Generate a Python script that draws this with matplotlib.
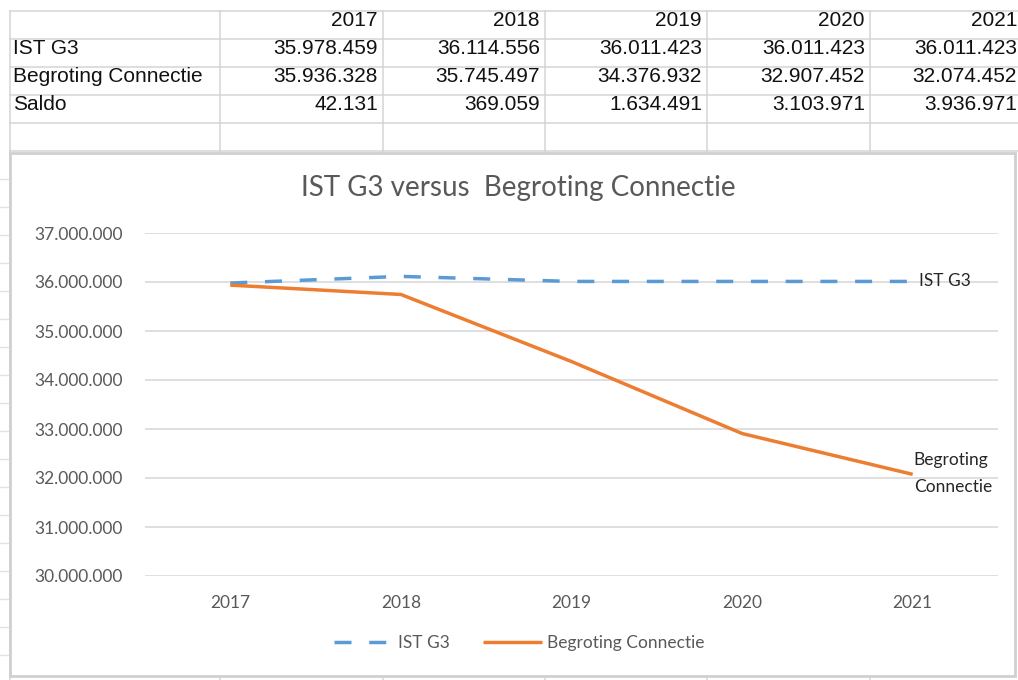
import matplotlib
matplotlib.use("Agg")
import matplotlib.pyplot as plt
from matplotlib.patches import Rectangle

# ---------------- data ----------------
years = ["2017", "2018", "2019", "2020", "2021"]
ist_g3 = [35978459, 36114556, 36011423, 36011423, 36011423]
begroting = [35936328, 35745497, 34376932, 32907452, 32074452]
saldo = [42131, 369059, 1634491, 3103971, 3936971]
row_labels = ["IST G3", "Begroting Connectie", "Saldo"]
y_ticks = [30000000, 31000000, 32000000, 33000000, 34000000, 35000000, 36000000, 37000000]
title = "IST G3 versus  Begroting Connectie"

W, H = 1018, 680
fig = plt.figure(figsize=(W / 100, H / 100), dpi=100)
fig.patch.set_facecolor("white")

def dotfmt(v):
    return f"{v:,}".replace(",", ".")

# ---------------- background sheet (pixel coords) ----------------
bg = fig.add_axes([0, 0, 1, 1])
bg.set_xlim(0, W)
bg.set_ylim(H, 0)
bg.axis("off")

grid_c = "#d4d4d4"
col_edges = [10, 220, 383, 545, 707, 870, 1022]
row_edges = [11, 39, 67, 95, 123, 151]
for y in row_edges:
    bg.plot([col_edges[0], W], [y, y], color=grid_c, lw=1.1, zorder=1)
for x in col_edges:
    bg.plot([x, x], [row_edges[0], H], color=grid_c, lw=1.1, zorder=1)
# row stubs left of the chart
for y in range(179, H, 28):
    bg.plot([0, 10], [y, y], color="#e2e2e2", lw=1.0, zorder=1)

tfont = dict(family="Liberation Sans", size=15, color="#111111", va="center")
row_y = [21, 49, 77, 105]
# header
for i, yr in enumerate(years):
    bg.text(col_edges[i + 2] - 5, row_y[0], yr, ha="right", **tfont)
series_rows = [ist_g3, begroting, saldo]
for r, (lab, vals) in enumerate(zip(row_labels, series_rows)):
    bg.text(13, row_y[r + 1], lab, ha="left", **tfont)
    for i, v in enumerate(vals):
        bg.text(col_edges[i + 2] - 5, row_y[r + 1], dotfmt(v), ha="right", **tfont)

# chart area box
bg.add_patch(Rectangle((10, 153), 1005, 523, facecolor="white",
                       edgecolor="#d0d0d0", lw=2.0, zorder=3))

# ---------------- chart ----------------
cfont = "Lato"
gray = "#595959"
blue = "#5B9BD5"
orange = "#ED7D31"

L, R, T, B = 145, 998, 233, 576
ax = fig.add_axes([L / W, 1 - B / H, (R - L) / W, (B - T) / H])
ax.set_facecolor("none")
ax.set_zorder(5)
xs = list(range(len(years)))

ax.plot(xs, ist_g3, color=blue, lw=2.5, dashes=(4.9, 5.1), dash_capstyle="butt",
        label="IST G3", zorder=3)
ax.plot(xs, begroting, color=orange, lw=2.5, solid_capstyle="butt",
        label="Begroting Connectie", zorder=4)

ax.set_xlim(-0.5, len(years) - 0.5)
ax.set_ylim(y_ticks[0], y_ticks[-1])
ax.set_yticks(y_ticks)
ax.set_yticklabels([dotfmt(v) for v in y_ticks])
ax.set_xticks(xs)
ax.set_xticklabels(years)
for s in ax.spines.values():
    s.set_visible(False)
ax.grid(axis="y", color="#d9d9d9", lw=1.2)
ax.set_axisbelow(True)
ax.tick_params(length=0, labelsize=12.5, labelcolor=gray)
ax.tick_params(axis="y", pad=16)
ax.tick_params(axis="x", pad=14)
for lab in ax.get_xticklabels() + ax.get_yticklabels():
    lab.set_family(cfont)

# data labels at the end
ax.annotate("IST G3", (xs[-1], ist_g3[-1]), xytext=(6, 0), textcoords="offset pixels",
            ha="left", va="center", fontsize=12.5, family=cfont, color="#262626")
ax.annotate("Begroting\nConnectie", (xs[-1], begroting[-1]), xytext=(1, 1),
            textcoords="offset pixels", ha="left", va="center", fontsize=12.5,
            family=cfont, color="#262626", linespacing=1.8)

fig.text(518 / W, 1 - 188 / H, title, ha="center", va="center", fontsize=20,
         family=cfont, color=gray, zorder=6)

leg = fig.legend(loc="center", bbox_to_anchor=(519 / W, 1 - 643 / H), ncol=2,
                 frameon=False, handlelength=3.4, handletextpad=0.3,
                 columnspacing=1.9, prop=dict(family=cfont, size=12.5))
for t in leg.get_texts():
    t.set_color(gray)
leg.set_zorder(6)

fig.savefig("out.png", dpi=100, facecolor="white")
